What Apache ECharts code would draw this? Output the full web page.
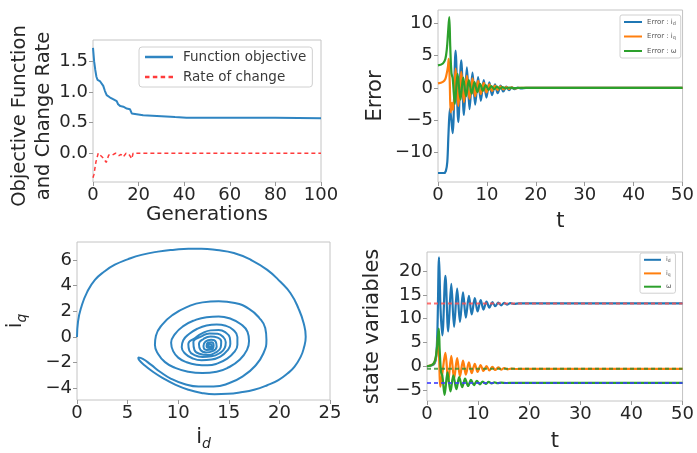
<!DOCTYPE html>
<html>
<head>
<meta charset="utf-8">
<script src="https://cdn.jsdelivr.net/npm/echarts@6/dist/echarts.min.js"></script>
<style>html,body{margin:0;background:#fff}#c{width:697px;height:453px}</style>
</head>
<body>
<div id="c"></div>
<script>
// ---- top left : objective function / change rate per generation ----
var objective = [[0,1.72],[0.5,1.5],[1,1.36],[1.5,1.25],[2,1.2],[3,1.18],[3.8,1.17],[4.5,1.1],[5.2,1.02],[6,0.95],[7.5,0.91],[9,0.88],[10.4,0.85],[11,0.8],[12,0.77],[13.3,0.76],[14.8,0.73],[16.2,0.72],[17,0.65],[17.5,0.62],[22,0.62],[28,0.61],[32,0.6],[36,0.59],[41,0.58],[60,0.58],[80,0.58],[90,0.575],[100,0.57]];
var changeRate = [[0,-0.4],[0.4,-0.35],[1.3,-0.14],[2.3,0],[3,-0.03],[4.5,-0.08],[5.8,-0.15],[6.9,-0.03],[8.4,-0.03],[9.9,0],[11.4,-0.04],[12.3,-0.02],[13.3,-0.06],[14.5,0],[16,-0.03],[17,-0.09],[17.6,0],[30,0],[30.5,-0.01],[31,0],[100,0]];

// ---- top right : errors vs t ----
var errId = [[0,-13.2],[1.2,-13.2],[1.6,-12.9],[1.9,-11.5],[2.15,-7],[2.45,-3.2],[2.7,-4.8],[3.0,-7.0],[3.6,5.8],[4.15,-5.3],[4.75,4.3],[5.3,-4.2],[5.9,3.2],[6.45,-3.3],[7.05,2.4],[7.6,-2.6],[8.2,1.7],[8.75,-2.0],[9.35,1.2],[9.9,-1.5],[10.5,0.85],[11.05,-1.1],[11.65,0.55],[12.2,-0.8],[12.8,0.35],[13.35,-0.55],[13.95,0.2],[14.5,-0.35],[15.1,0.1],[15.65,-0.2],[16.3,0.05],[17,-0.08],[18,0],[50,0]];
var errIq = [[0,0.7],[1,0.95],[1.5,1.4],[1.8,2.3],[2.05,3.4],[2.2,4.5],[2.4,1.0],[2.6,-3.8],[2.85,-2.3],[3.1,-3.4],[3.6,3.0],[4.15,-2.8],[4.75,2.5],[5.3,-2.2],[5.9,1.9],[6.45,-1.7],[7.05,1.5],[7.6,-1.3],[8.2,1.1],[8.75,-0.95],[9.35,0.8],[9.9,-0.7],[10.5,0.55],[11.05,-0.5],[11.65,0.38],[12.2,-0.33],[12.8,0.25],[13.35,-0.22],[13.95,0.15],[14.5,-0.13],[15.1,0.08],[15.65,-0.06],[16.5,0.02],[18,0],[50,0]];
var errW = [[0,3.5],[1,3.8],[1.5,4.5],[1.8,6],[2.05,8.5],[2.3,11.0],[2.5,6.5],[2.75,2.3],[3.0,1.5],[3.45,-2.5],[4.0,2.2],[4.6,-1.8],[5.15,1.6],[5.75,-1.3],[6.3,1.2],[6.9,-0.9],[7.45,0.9],[8.05,-0.65],[8.6,0.65],[9.2,-0.45],[9.75,0.45],[10.35,-0.3],[10.9,0.3],[11.5,-0.2],[12.05,0.2],[12.65,-0.12],[13.2,0.12],[13.8,-0.06],[14.5,0.05],[15.5,-0.02],[17,0],[50,0]];

// ---- bottom left : id / iq trajectory ----
var trajectory = [
  [0,0],[0.1,1.2],[0.45,2.4],[1.0,3.5],[1.77,4.45],[2.7,5.1],[3.74,5.63],[5,6.05],[6.37,6.4],[8,6.65],[9.65,6.8],[11,6.87],[12.3,6.87],[13.8,6.77],[15.5,6.54],[17.2,6.0],[18.8,5.23],[20.1,4.3],[21.1,3.41],[21.9,2.2],[22.4,1.07],[22.6,0.03],[22.4,-0.9],[22.1,-1.54],[21.5,-2.3],[20.8,-2.84],[19.9,-3.35],[18.8,-3.75],[17.5,-4.1],[16.2,-4.3],[14.9,-4.42],[13.6,-4.45],[12.3,-4.35],[11,-4.1],[9.7,-3.7],[8.5,-3.2],[7.5,-2.7],[6.6,-2.15],[6.15,-1.8],[6.05,-1.6],
  [6.5,-1.7],[7.3,-2.15],[8.2,-2.7],[9.3,-3.25],[10.6,-3.65],[12,-3.85],[13.5,-3.85],[15,-3.6],[16.4,-3.05],[17.6,-2.25],[18.4,-1.3],[18.72,-0.2],[18.6,0.7],[18,1.5],[17,2.2],[15.6,2.65],[14,2.78],[12.4,2.7],[10.9,2.35],[9.5,1.75],[8.4,0.95],[7.8,0.1],[7.7,-0.6],[8,-1.3],[8.7,-1.95],[9.7,-2.4],[11,-2.7],[12.4,-2.8],[13.8,-2.7],[15,-2.35],[16.1,-1.75],[16.8,-1.0],[17.0,-0.3],[16.85,0.4],[16.2,1.0],[15.2,1.42],[14,1.6],[12.8,1.55],[11.6,1.3],[10.5,0.85],[9.7,0.25],[9.3,-0.45],[9.5,-1.1],[10,-1.6],[10.8,-1.95],[11.8,-2.15],[12.9,-2.2],[13.9,-2.05],[14.8,-1.7],[15.5,-1.2],[15.85,-0.6],[15.85,0],[15.45,0.55],[14.7,0.88],[13.8,0.98],[12.8,0.9],[11.9,0.65],[11.1,0.25],[10.5,-0.25],[10.35,-0.8],[10.7,-1.3],[11.4,-1.65],[12.3,-1.8],[13.3,-1.75],[14.2,-1.5],[14.85,-1.05],[15.15,-0.55],[15.1,-0.05],[14.7,0.35],[14,0.55],[13.2,0.52],[12.4,0.3],[11.7,-0.05],[11.0,-0.55],[11.1,-1.05],[11.6,-1.4],[12.4,-1.55],[13.3,-1.5],[14.1,-1.25],[14.6,-0.85],[14.7,-0.4],[14.45,0.0],[13.9,0.25],[13.1,0.28],[12.3,0.05],[11.5,-0.4],[11.6,-1.0],[12.1,-1.3],[12.9,-1.4],[13.7,-1.2],[14.2,-0.8],[14.25,-0.35],[13.9,-0.05],[13.2,0.05],[12.5,-0.15],[12.05,-0.55],[12.2,-1.0],[12.75,-1.2],[13.4,-1.1],[13.8,-0.75],[13.7,-0.35],[13.25,-0.2],[12.7,-0.35],[12.5,-0.7],[12.8,-1.0],[13.3,-0.95],[13.5,-0.65],[13.3,-0.4],[12.9,-0.45],[12.8,-0.7],[13.05,-0.85],[13.3,-0.7],[13.15,-0.55],[12.95,-0.62],[13.05,-0.72],[13.12,-0.66]
];

// ---- bottom right : state variables vs t ----
var stId = [[0,0],[1,0.2],[1.5,0.6],[1.8,2],[2.05,8],[2.35,22.9],[2.65,12],[3.0,6.5],[3.6,19],[4.15,7.3],[4.75,17.3],[5.3,8.3],[5.9,16.3],[6.45,9.3],[7.05,15.5],[7.6,10.2],[8.2,14.8],[8.75,10.9],[9.35,14.3],[9.9,11.5],[10.5,13.9],[11.05,11.9],[11.65,13.6],[12.2,12.3],[12.8,13.45],[13.35,12.6],[13.95,13.35],[14.5,12.8],[15.1,13.3],[15.65,12.95],[16.3,13.25],[17,13.1],[18,13.2],[50,13.2]];
var stIq = [[0,0],[1,0.3],[1.5,0.9],[1.8,2.2],[2.05,4.5],[2.2,6.5],[2.4,1],[2.6,-4.3],[3.0,-1.5],[3.6,2.8],[4.15,-3.2],[4.75,2.2],[5.3,-2.6],[5.9,1.7],[6.45,-2.1],[7.05,1.2],[7.6,-1.75],[8.2,0.8],[8.75,-1.45],[9.35,0.5],[9.9,-1.2],[10.5,0.25],[11.05,-1.0],[11.65,0.05],[12.2,-0.88],[12.8,-0.12],[13.35,-0.78],[13.95,-0.25],[14.5,-0.7],[15.1,-0.38],[15.7,-0.65],[16.5,-0.48],[17.5,-0.58],[19,-0.55],[50,-0.55]];
var stW = [[0,0],[1,0.3],[1.5,1.0],[1.8,2.5],[2.05,5],[2.3,7.9],[2.5,3],[2.75,-1.2],[3.0,-2.0],[3.45,-6.0],[4.0,-1.3],[4.6,-5.3],[5.15,-1.9],[5.75,-4.8],[6.3,-2.3],[6.9,-4.4],[7.45,-2.6],[8.05,-4.15],[8.6,-2.85],[9.2,-3.95],[9.75,-3.05],[10.35,-3.8],[10.9,-3.2],[11.5,-3.7],[12.05,-3.3],[12.65,-3.62],[13.2,-3.38],[13.8,-3.56],[14.5,-3.45],[15.5,-3.52],[17,-3.5],[50,-3.5]];
var refLevels = [13.2, -0.55, -3.5];   // dashed reference lines (red, green, blue)
var refColors = ['#ff4d4d', '#2e8b2e', '#3b3bff'];

var font = 'DejaVu Sans';
var ink = '#262626';
var blue = '#1f77b4', orange = '#ff7f0e', green = '#2ca02c';
var DASH_ICON = 'path://M0,0h4v1h-4z M7,0h4v1h-4z M14,0h4v1h-4z M21,0h4v1h-4z';

function minus(v) { return String(v).replace('-', '\u2212'); }

var nameRich = {
  n: { fontSize: 21, color: ink, fontFamily: font, verticalAlign: 'top', lineHeight: 24 },
  s: { fontSize: 14, color: ink, fontFamily: font, fontStyle: 'italic', verticalAlign: 'bottom', lineHeight: 14, padding: [14, 0, 0, 0] }
};

function xAx(g, max, step, name, gap, size) {
  return {
    type: 'value', gridIndex: g, min: 0, max: max, interval: step,
    name: name, nameLocation: 'middle', nameGap: gap,
    nameTextStyle: { fontSize: size || 21, color: ink, fontFamily: font, rich: nameRich },
    axisLine: { show: false, onZero: false },
    axisTick: { length: 4, lineStyle: { color: '#999' } },
    axisLabel: { fontSize: 18, color: ink, fontFamily: font, margin: 4, formatter: minus },
    splitLine: { show: false }
  };
}
function yAx(g, min, max, ticks, fmt, name, gap, nameStyle) {
  return {
    type: 'value', gridIndex: g, min: min, max: max,
    name: name, nameLocation: 'middle', nameGap: gap,
    nameTextStyle: Object.assign({ fontSize: 21, color: ink, fontFamily: font, rich: nameRich }, nameStyle || {}),
    axisLine: { show: false, onZero: false },
    axisTick: { length: 4, lineStyle: { color: '#999' }, customValues: ticks },
    axisLabel: { fontSize: 18, color: ink, fontFamily: font, margin: 5, customValues: ticks,
      formatter: function (v) { return minus(fmt ? v.toFixed(1) : v); } },
    splitLine: { show: false }
  };
}
function line(name, x, y, data, color, width, dash, smooth) {
  return {
    name: name, type: 'line', xAxisIndex: x, yAxisIndex: y, data: data,
    showSymbol: false, symbol: 'none', smooth: smooth || false,
    lineStyle: { color: color, width: width, type: dash || 'solid' },
    itemStyle: { color: color }, z: 2
  };
}

var frame = { show: true, borderColor: '#c4c4c4', borderWidth: 1 };
var series = [
  line('Function objective', 0, 0, objective, '#2f85c2', 2),
  line('Rate of change', 0, 0, changeRate, '#ff3b3b', 1.5, [4, 3]),
  line('Error : id', 1, 1, errId, blue, 2.2, null, 0.35),
  line('Error : iq', 1, 1, errIq, orange, 2.2, null, 0.35),
  line('Error : w', 1, 1, errW, green, 2.2, null, 0.35),
  line('traj', 2, 2, trajectory, '#2f85c2', 2, null, 0.5),
  line('id', 3, 3, stId, blue, 2.2, null, 0.35),
  line('iq', 3, 3, stIq, orange, 2.2, null, 0.35),
  line('w', 3, 3, stW, green, 2.2, null, 0.35)
];
refLevels.forEach(function (lv, i) {
  var s = line('ref' + i, 3, 3, [[0, lv], [50, lv]], refColors[i], 2, [4, 3]);
  s.z = 3; s.lineStyle.opacity = 0.8;
  series.push(s);
});

var legendText = {
  'Error : id': 'Error : i{s|d}', 'Error : iq': 'Error : i{s|q}', 'Error : w': 'Error : \u03c9',
  'id': 'i{s|d}', 'iq': 'i{s|q}', 'w': '\u03c9'
};
function tinyLegend(names, left, top, size, w, lh, gap) {
  return {
    data: names.map(function (n) { return { name: n, icon: 'rect' }; }),
    orient: 'vertical', left: left, top: top, itemWidth: w, itemHeight: 2, itemGap: gap,
    symbolKeepAspect: false,
    padding: [3, 4, 3, 4], backgroundColor: '#fff', borderColor: '#d0d0d0', borderWidth: 1, borderRadius: 2,
    formatter: function (n) { return legendText[n]; },
    textStyle: { fontSize: size, lineHeight: lh, color: '#555', fontFamily: font,
      rich: { s: { fontSize: size * 0.7, lineHeight: lh, color: '#555', fontFamily: font, padding: [size * 0.4, 0, 0, 0] } } }
  };
}

var chart = echarts.init(document.getElementById('c'));
chart.setOption({
  animation: false,
  backgroundColor: '#fff',
  grid: [
    Object.assign({ left: 93, top: 40, width: 228, height: 142 }, frame),
    Object.assign({ left: 438, top: 10, width: 246, height: 172 }, frame),
    Object.assign({ left: 76, top: 242, width: 254, height: 158 }, frame),
    Object.assign({ left: 427, top: 252, width: 256, height: 154 }, frame)
  ],
  xAxis: [
    xAx(0, 100, 20, 'Generations', 18, 20),
    xAx(1, 50, 10, 't', 29),
    xAx(2, 25, 5, '{n|i}{s|d}', 24),
    xAx(3, 50, 10, 't', 30)
  ],
  yAxis: [
    yAx(0, -0.47, 1.85, [0, 0.5, 1, 1.5], true, 'Objective Function\nand Change Rate', 36,
        { fontSize: 19.5, lineHeight: 24, padding: [0, 10, 0, 0] }),
    yAx(1, -14.6, 12.1, [-10, -5, 0, 5, 10], false, 'Error', 52),
    yAx(2, -4.9, 7.4, [-4, -2, 0, 2, 4, 6], false, '{n|i}{s|q}', 48),
    yAx(3, -7.3, 24, [-5, 0, 5, 10, 15, 20], false, 'state variables', 44)
  ],
  legend: [
    { data: [{ name: 'Function objective', icon: 'rect' }, { name: 'Rate of change', icon: DASH_ICON }],
      orient: 'vertical', left: 139, top: 47, symbolKeepAspect: false,
      itemWidth: 28, itemHeight: 2.5, itemGap: 6, padding: [3, 6, 3, 6],
      backgroundColor: '#fff', borderColor: '#d0d0d0', borderWidth: 1, borderRadius: 3,
      textStyle: { fontSize: 13.5, lineHeight: 14, color: '#3a3a3a', fontFamily: font, padding: [0, 0, 0, 5] } },
    tinyLegend(['Error : id', 'Error : iq', 'Error : w'], 620, 15, 7, 18, 8, 6.5),
    tinyLegend(['id', 'iq', 'w'], 640, 253, 6.5, 17, 7, 6)
  ],
  series: series
});
</script>
</body>
</html>
